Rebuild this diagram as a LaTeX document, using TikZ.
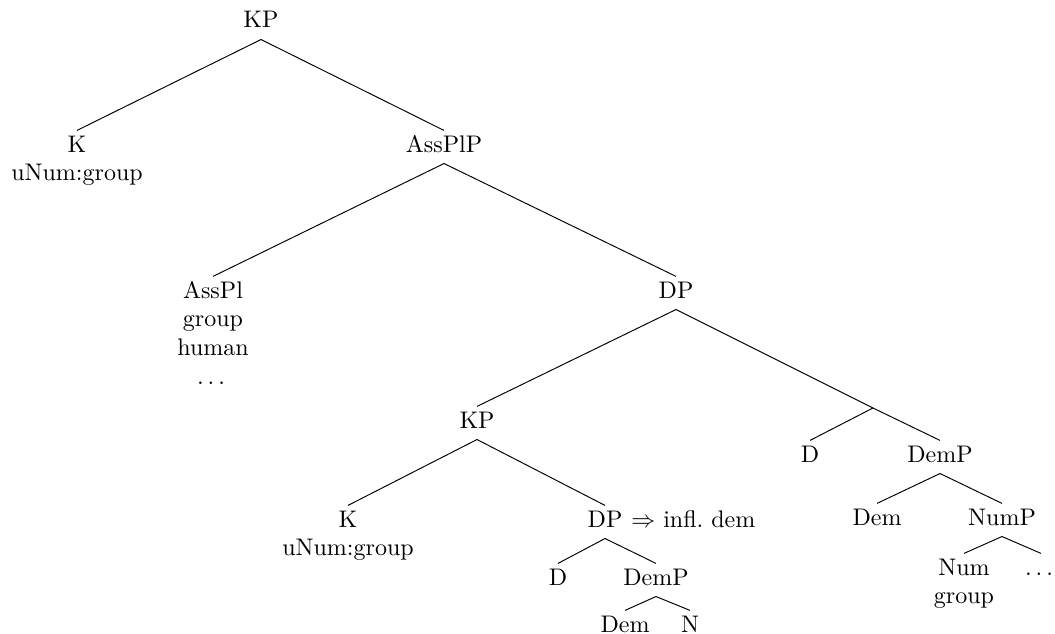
\documentclass[tikz,border=0pt]{standalone}
\usepackage{amsmath,amssymb}
\usepackage{tikz}
\usetikzlibrary{positioning,calc}

\begin{document}
\begin{tikzpicture}[x=0.014644cm, y=-0.014644cm,
  tn/.style={anchor=base, inner xsep=3.33pt, inner ysep=2pt, text height=6.8pt, text depth=2.6pt},
  br/.style={line width=0.4pt}]
% Unit = 1px of the 1055x634 canvas, y grows downwards; nodes sit on their baselines
\useasboundingbox (0,0) rectangle (1055,634);
% Upper part: KP -> K, AssPlP -> AssPl, DP
\node[tn] (kp) at (261,28) {KP};
\node[tn] (k) at (77,152) {\begin{tabular}[t]{@{}c@{}}K\\uNum:group\end{tabular}};
\node[tn] (assplp) at (444,152) {AssPlP};
\node[tn] (asspl) at (213,298) {\begin{tabular}[t]{@{}c@{}}AssPl\\group\\human\\$\dots$\end{tabular}};
\node[tn] (dp) at (676,298) {DP};
% Inner KP and its DP
\node[tn] (kp2) at (477,428) {KP};
\node[tn] (k2) at (348,527) {\begin{tabular}[t]{@{}c@{}}K\\uNum:group\end{tabular}};
\node[tn] (dp2) at (605,527) {DP};
\node[anchor=base west, inner sep=0pt] (infl) at ($(dp2.base east)+(0,0)$) {$\Rightarrow$ infl.\ dem};
\node[tn] (d2) at (558,585) {D};
\node[tn] (demp2) at (656,585) {DemP};
\node[tn] (dem2) at (625,632) {Dem};
\node[tn] (n) at (690,632) {N};
% Outer D + DemP, hung from an unlabelled point on the DP branch
\coordinate (dbar) at (873,408);
\node[tn] (d) at (810,462) {D};
\node[tn] (demp) at (940,462) {DemP};
\node[tn] (dem) at (877,525) {Dem};
\node[tn] (nump) at (1002,525) {NumP};
\node[tn] (num) at (964,575) {\begin{tabular}[t]{@{}c@{}}Num\\group\end{tabular}};
\node[tn] (rest) at (1041,575) {$\dots$};
% Branches
\foreach \a/\b in {kp/k, kp/assplp, assplp/asspl, assplp/dp, dp/kp2, kp2/k2, kp2/dp2,
    dp2/d2, dp2/demp2, demp2/dem2, demp2/n, demp/dem, demp/nump, nump/num, nump/rest} {
    \draw[br] (\a.south) -- (\b.north);
}
\draw[br] (dp.south) -- (dbar) -- (demp.north);
\draw[br] (dbar) -- (d.north);
\end{tikzpicture}
\end{document}
